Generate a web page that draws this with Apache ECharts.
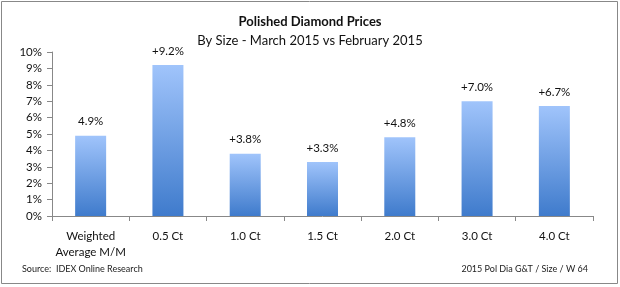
<!DOCTYPE html>
<html><head><meta charset="utf-8">
<script src="https://cdn.jsdelivr.net/npm/echarts@6/dist/echarts.min.js"></script>
<style>html,body{margin:0;padding:0;background:#fff}#c{width:620px;height:287px}</style>
</head><body><div id="c"></div>
<script>
var categories = ['Weighted\nAverage M/M', '0.5 Ct', '1.0 Ct', '1.5 Ct', '2.0 Ct', '3.0 Ct', '4.0 Ct'];
var values = [4.9, 9.2, 3.8, 3.3, 4.8, 7.0, 6.7];
var valueLabels = ['4.9%', '+9.2%', '+3.8%', '+3.3%', '+4.8%', '+7.0%', '+6.7%'];
var yTicks = ['0%','1%','2%','3%','4%','5%','6%','7%','8%','9%','10%'];

var font = 'Lato, "Open Sans", sans-serif';
var chart = echarts.init(document.getElementById('c'));
chart.setOption({
  animation: false,
  backgroundColor: '#fff',
  graphic: [
    {type:'rect', shape:{x:1.5,y:1.5,width:616,height:282}, style:{fill:'none', stroke:'#888', lineWidth:1}},
    {type:'text', left:22, top:265, style:{text:'Source:  IDEX Online Research', font:'9px ' + font, fill:'#222'}},
    {type:'text', right:32, top:265, style:{text:'2015 Pol Dia G&T / Size / W 64', font:'9px ' + font, fill:'#222'}}
  ],
  title: {
    text: 'Polished Diamond Prices',
    subtext: 'By Size - March 2015 vs February 2015',
    left: 'center', top: 10, itemGap: 6,
    textStyle: {fontFamily: font, fontSize: 13, fontWeight: 'bold', color: '#111'},
    subtextStyle: {fontFamily: font, fontSize: 13, color: '#111'}
  },
  grid: {left: 52, right: 27, top: 52, bottom: 71, containLabel: false},
  xAxis: {
    type: 'category', data: categories,
    axisLine: {lineStyle: {color: '#888'}},
    axisTick: {show: true, length: 5, alignWithLabel: false, lineStyle: {color: '#888'}},
    axisLabel: {fontFamily: font, fontSize: 11.5, color: '#111', margin: 12, lineHeight: 16, interval: 0}
  },
  yAxis: {
    type: 'value', min: 0, max: 10, interval: 1,
    axisLine: {show: true, lineStyle: {color: '#888'}},
    axisTick: {show: true, length: 5, lineStyle: {color: '#888'}},
    splitLine: {show: false},
    axisLabel: {fontFamily: font, fontSize: 11.5, color: '#111', margin: 10,
      formatter: function(v){ return yTicks[Math.round(v)]; }}
  },
  series: [{
    type: 'bar', data: values, barWidth: 31,
    itemStyle: {color: new echarts.graphic.LinearGradient(0,0,0,1,[
      {offset:0, color:'#a0c4fb'}, {offset:1, color:'#3f7bcc'}])},
    label: {show: true, position: 'top', distance: 8, fontFamily: font, fontSize: 11.5, color: '#111',
      formatter: function(p){ return valueLabels[p.dataIndex]; }}
  }]
});
</script></body></html>
